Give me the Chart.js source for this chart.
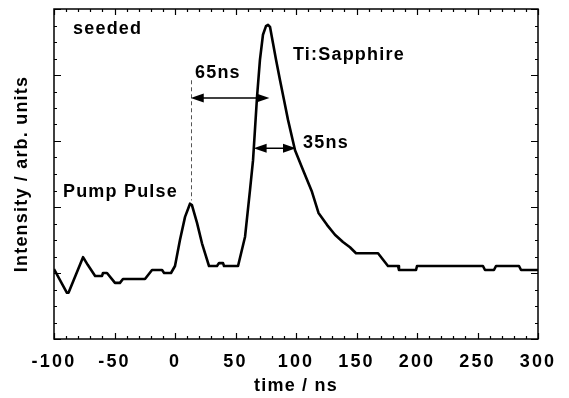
<!DOCTYPE html>
<html><head><meta charset="utf-8">
<script src="https://cdn.jsdelivr.net/npm/chart.js@4.4.1/dist/chart.umd.min.js"></script>
<style>html,body{margin:0;padding:0;background:#fff}</style>
</head><body>
<canvas id="c" width="569" height="398"></canvas>
<script>
// ---- data ----
const timeNs = [-100, -89.3, -88, -76, -72, -66, -60.3, -59.5, -56.2, -49.6, -45.5, -43, -24.8, -19, -10.7, -9, -3.3, 0,
  4.1, 8.3, 12.4, 14, 18.2, 22.3, 24.8, 28.1, 34.7, 36.4, 39.7, 40.5, 52.1, 57.9, 62, 64.5, 67.8, 70.2, 72.7, 75.2, 76.9,
  78.5, 81, 83.5, 86.8, 90.1, 93.4, 99.2, 105.8, 113.2, 118.6, 125.6, 132.2, 138.8, 144.6, 149.6, 167.8, 176, 184.3, 185.1,
  199.2, 200, 254.5, 256.2, 263.6, 265.3, 284.3, 286, 300];
const intensity = [1.06, 0.70, 0.70, 1.24, 1.12, 0.955, 0.955, 1.0, 1.0, 0.85, 0.85, 0.91, 0.91, 1.045, 1.045, 1.0, 1.0, 1.106,
  1.5, 1.85, 2.05, 2.03, 1.76, 1.45, 1.30, 1.106, 1.106, 1.15, 1.15, 1.106, 1.106, 1.55, 2.26, 2.71, 3.67, 4.23, 4.61, 4.74, 4.76,
  4.73, 4.48, 4.23, 3.92, 3.62, 3.32, 2.86, 2.56, 2.23, 1.91, 1.73, 1.58, 1.47, 1.39, 1.30, 1.30, 1.106, 1.106, 1.045,
  1.045, 1.106, 1.106, 1.045, 1.045, 1.106, 1.106, 1.045, 1.045];
const xRange = [-100, 300];
const yRange = [0, 5];
const xMajorStep = 50, xMinorStep = 10;
const yMajorStep = 1, yMinorStep = 0.25;
const xTitle = 'time / ns';
const yTitle = 'Intensity / arb. units';
const noteTexts = ['seeded', '65ns', 'Ti:Sapphire', '35ns', 'Pump Pulse'];
const noteX = [-84.3, 16.5, 97.5, 105.8, -92.6];
const noteY = [4.62, 3.955, 4.23, 2.894, 2.15];
const arrowX1 = [13, 65];
const arrowX2 = [78, 100];
const arrowY = [3.65, 2.89];
const dashX = 13.2, dashY1 = 3.92, dashY2 = 2.1;

const FONT = '"Liberation Sans", Arial, sans-serif';

const decor = {
  id: 'decor',
  beforeDraw(chart) {
    const ctx = chart.ctx;
    ctx.letterSpacing = '1.2px';
    const xs = chart.scales.x;
    if (!xs._wrapped) {
      const orig = xs.drawLabels;
      xs.drawLabels = function (area) {
        chart.ctx.save();
        chart.ctx.letterSpacing = '2.2px';
        orig.call(this, area);
        chart.ctx.restore();
      };
      xs._wrapped = true;
    }
  },
  afterDraw(chart) {
    const ctx = chart.ctx, xs = chart.scales.x, ys = chart.scales.y, a = chart.chartArea;
    ctx.save();
    ctx.strokeStyle = '#000';
    ctx.lineWidth = 1.2;
    ctx.beginPath();
    const nx = Math.round((xs.max - xs.min) / xMinorStep);
    for (let i = 0; i <= nx; i++) {
      const v = xs.min + i * xMinorStep;
      const px = Math.round(xs.getPixelForValue(v)) + 0.5;
      const len = (Math.abs(v % xMajorStep) < 1e-6) ? 6 : 3;
      ctx.moveTo(px, a.bottom); ctx.lineTo(px, a.bottom - len);
      ctx.moveTo(px, a.top); ctx.lineTo(px, a.top + len);
    }
    const ny = Math.round((ys.max - ys.min) / yMinorStep);
    for (let i = 0; i <= ny; i++) {
      const v = ys.min + i * yMinorStep;
      const py = Math.round(ys.getPixelForValue(v)) + 0.5;
      const len = (i % Math.round(yMajorStep / yMinorStep) === 0) ? 7 : 3;
      ctx.moveTo(a.left, py); ctx.lineTo(a.left + len, py);
      ctx.moveTo(a.right, py); ctx.lineTo(a.right - len, py);
    }
    ctx.stroke();
    ctx.lineWidth = 1.5;
    ctx.strokeRect(a.left, a.top, a.right - a.left, a.bottom - a.top);

    // dashed guide line
    ctx.save();
    ctx.strokeStyle = '#555';
    ctx.lineWidth = 1;
    ctx.setLineDash([4, 3]);
    ctx.beginPath();
    const dx = Math.round(xs.getPixelForValue(dashX)) + 0.5;
    ctx.moveTo(dx, ys.getPixelForValue(dashY1));
    ctx.lineTo(dx, ys.getPixelForValue(dashY2));
    ctx.stroke();
    ctx.restore();

    // double arrows
    ctx.fillStyle = '#000';
    ctx.strokeStyle = '#000';
    ctx.lineWidth = 1.5;
    const hl = 13, hw = 4.5;
    for (let i = 0; i < arrowX1.length; i++) {
      const x1 = xs.getPixelForValue(arrowX1[i]);
      const x2 = xs.getPixelForValue(arrowX2[i]);
      const y = ys.getPixelForValue(arrowY[i]);
      ctx.beginPath();
      ctx.moveTo(x1 + hl - 1, y); ctx.lineTo(x2 - hl + 1, y);
      ctx.stroke();
      ctx.beginPath();
      ctx.moveTo(x1, y); ctx.lineTo(x1 + hl, y - hw); ctx.lineTo(x1 + hl, y + hw); ctx.closePath();
      ctx.fill();
      ctx.beginPath();
      ctx.moveTo(x2, y); ctx.lineTo(x2 - hl, y - hw); ctx.lineTo(x2 - hl, y + hw); ctx.closePath();
      ctx.fill();
    }

    // annotation texts
    ctx.font = 'bold 18px ' + FONT;
    ctx.letterSpacing = '1.2px';
    ctx.textAlign = 'left';
    ctx.textBaseline = 'alphabetic';
    for (let i = 0; i < noteTexts.length; i++) {
      ctx.fillText(noteTexts[i], xs.getPixelForValue(noteX[i]), ys.getPixelForValue(noteY[i]));
    }
    ctx.restore();
  }
};

new Chart(document.getElementById('c'), {
  type: 'line',
  data: {
    datasets: [{
      data: timeNs.map((t, i) => ({ x: t, y: intensity[i] })),
      borderColor: '#000',
      borderWidth: 2.6,
      pointRadius: 0,
      tension: 0,
      fill: false,
      borderJoinStyle: 'round'
    }]
  },
  options: {
    responsive: false,
    animation: false,
    devicePixelRatio: 1,
    layout: { padding: { top: 9, right: 31, left: 0, bottom: 0 } },
    plugins: { legend: { display: false }, tooltip: { enabled: false } },
    scales: {
      x: {
        type: 'linear', min: xRange[0], max: xRange[1],
        grid: { display: false }, border: { display: false },
        ticks: { stepSize: xMajorStep, color: '#000', padding: 4, maxRotation: 0,
          font: { family: FONT, size: 18, weight: 'bold' } },
        title: { display: true, text: xTitle, color: '#000', padding: { top: 0, bottom: 1 },
          font: { family: FONT, size: 18, weight: 'bold' } },
        afterFit(s) { s.height = 59; }
      },
      y: {
        type: 'linear', min: yRange[0], max: yRange[1],
        grid: { display: false }, border: { display: false },
        ticks: { display: false, stepSize: yMajorStep },
        title: { display: true, text: yTitle, color: '#000', padding: { top: 11, bottom: 0 },
          font: { family: FONT, size: 18, weight: 'bold' } },
        afterFit(s) { s.width = 54; }
      }
    }
  },
  plugins: [decor]
});
</script>
</body></html>
